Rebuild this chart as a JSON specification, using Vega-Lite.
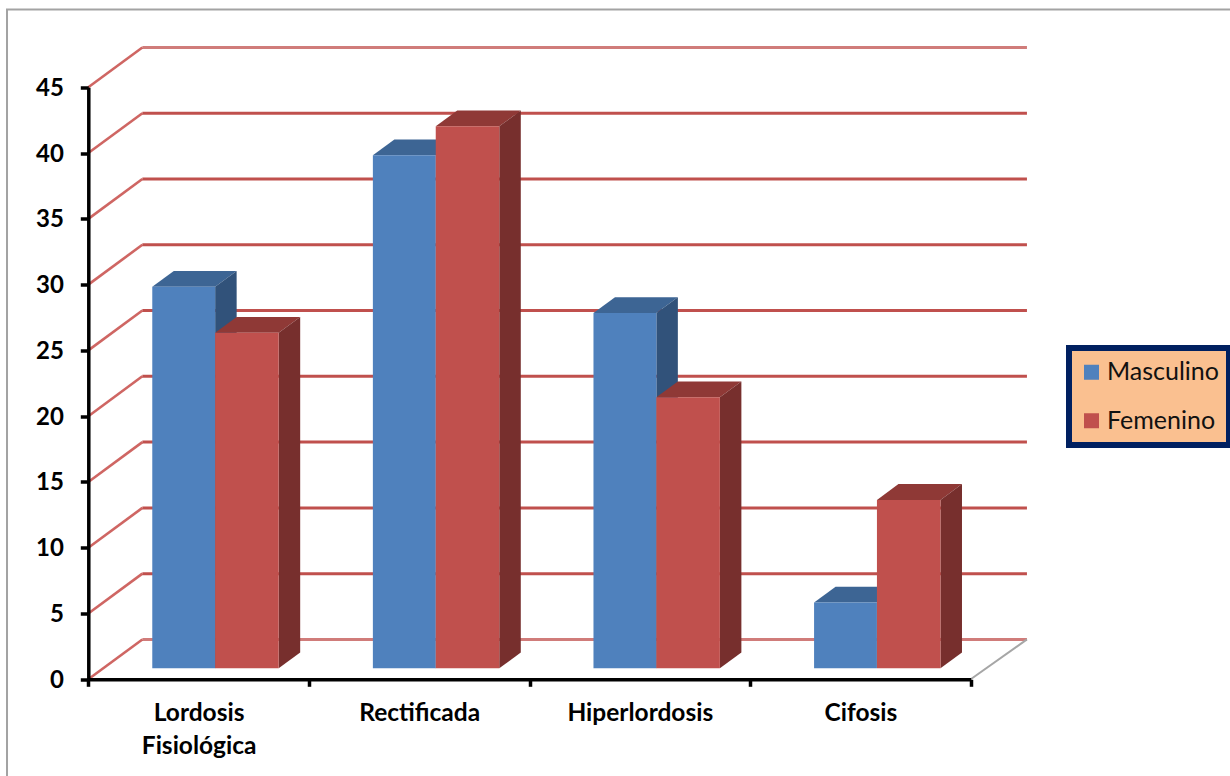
{
  "$schema": "https://vega.github.io/schema/vega-lite/v6.json",
  "width": 1223,
  "height": 766.5,
  "padding": {"left": 7, "top": 9.5, "right": 0, "bottom": 0},
  "autosize": {"type": "none"},
  "background": "#ffffff",
  "view": {"stroke": null},
  "config": {
    "font": "Lato",
    "legend": {"strokeWidth": 6}
  },
  "resolve": {"axis": {"x": "independent", "y": "independent"}},
  "datasets": {
    "barras": [
      {"categoria": "Lordosis Fisiológica", "serie": "Masculino", "valor": 29},
      {"categoria": "Lordosis Fisiológica", "serie": "Femenino", "valor": 25.5},
      {"categoria": "Rectificada", "serie": "Masculino", "valor": 39},
      {"categoria": "Rectificada", "serie": "Femenino", "valor": 41.2},
      {"categoria": "Hiperlordosis", "serie": "Masculino", "valor": 27},
      {"categoria": "Hiperlordosis", "serie": "Femenino", "valor": 20.6},
      {"categoria": "Cifosis", "serie": "Masculino", "valor": 5},
      {"categoria": "Cifosis", "serie": "Femenino", "valor": 12.8}
    ],
    "escala": [
      {"v": 0}, {"v": 5}, {"v": 10}, {"v": 15}, {"v": 20},
      {"v": 25}, {"v": 30}, {"v": 35}, {"v": 40}, {"v": 45}
    ]
  },
  "layer": [
    {
      "description": "Outer chart frame; it runs past the right and bottom of the canvas",
      "data": {"values": [{"marco": 1}]},
      "mark": {"type": "rect", "fill": null, "stroke": "#a3a3a3", "strokeWidth": 2, "clip": false},
      "encoding": {
        "x": {"datum": -0.3685, "type": "quantitative", "scale": {"domain": [0, 4], "range": [81.3, 963.7], "nice": false, "zero": false}, "axis": null},
        "x2": {"datum": 6},
        "y": {"datum": 50.92, "type": "quantitative", "scale": {"domain": [0, 45], "range": [669.8, 77.8], "nice": false, "zero": false}, "axis": null},
        "y2": {"datum": -10}
      }
    },
    {
      "description": "Left wall gridlines running back from the value axis",
      "data": {"name": "escala"},
      "transform": [{"calculate": "datum.v + 3.03", "as": "vb"}],
      "mark": {"type": "rule", "color": "#cf6663", "strokeWidth": 2.6},
      "encoding": {
        "x": {"datum": 0, "type": "quantitative", "scale": {"domain": [0, 4], "range": [81.3, 963.7], "nice": false, "zero": false}, "axis": null},
        "x2": {"datum": 0.245},
        "y": {"field": "v", "type": "quantitative", "scale": {"domain": [0, 45], "range": [669.8, 77.8], "nice": false, "zero": false}, "axis": null},
        "y2": {"field": "vb"}
      }
    },
    {
      "description": "Back wall gridlines, with both axes attached; the first and last are paler",
      "data": {"name": "escala"},
      "transform": [{"calculate": "datum.v + 3.03", "as": "vb"}],
      "mark": {"type": "rule", "color": "#c0504d", "strokeWidth": 3},
      "encoding": {
        "strokeOpacity": {"condition": {"test": "datum.v == 0 || datum.v == 45", "value": 0.75}, "value": 1},
        "x": {
          "datum": 0.245,
          "type": "quantitative",
          "scale": {"domain": [0, 4], "range": [81.3, 963.7], "nice": false, "zero": false},
          "axis": {
            "orient": "bottom",
            "offset": -96.7,
            "title": null,
            "grid": false,
            "zindex": 1,
            "values": [0, 0.5, 1, 1.5, 2, 2.5, 3, 3.5, 4],
            "domainColor": "#000000",
            "domainWidth": 3.5,
            "tickColor": "#000000",
            "tickWidth": 3.5,
            "tickSize": 7,
            "tickOpacity": {"condition": {"test": "datum.value % 1 != 0", "value": 0}, "value": 1},
            "labelExpr": "datum.value == 0.5 ? ['Lordosis', 'Fisiológica'] : datum.value == 1.5 ? 'Rectificada' : datum.value == 2.5 ? 'Hiperlordosis' : datum.value == 3.5 ? 'Cifosis' : ''",
            "labelFont": "Lato",
            "labelFontWeight": "bold",
            "labelFontSize": 24.5,
            "labelLineHeight": 33,
            "labelColor": "#000000",
            "labelPadding": 15,
            "labelOverlap": false,
            "labelFlush": false,
            "labelBound": false,
            "labelBaseline": "top",
            "labelAlign": "center",
            "labelAngle": 0
          }
        },
        "x2": {"datum": 4.255},
        "y": {
          "field": "vb",
          "type": "quantitative",
          "scale": {"domain": [0, 45], "range": [669.8, 77.8], "nice": false, "zero": false},
          "axis": {
            "orient": "left",
            "offset": -81.3,
            "title": null,
            "grid": false,
            "zindex": 1,
            "values": [0, 5, 10, 15, 20, 25, 30, 35, 40, 45],
            "domainColor": "#000000",
            "domainWidth": 3.5,
            "tickColor": "#000000",
            "tickWidth": 3.5,
            "tickSize": 8,
            "labelFont": "Lato",
            "labelFontWeight": "bold",
            "labelFontSize": 24,
            "labelColor": "#000000",
            "labelPadding": 17,
            "labelOffset": 1,
            "labelOverlap": false,
            "labelFlush": false,
            "labelBound": false
          }
        }
      }
    },
    {
      "description": "Grey right edge of the floor",
      "data": {"values": [{"a": 0, "b": 3.03}]},
      "mark": {"type": "rule", "color": "#a6a6a6", "strokeWidth": 2},
      "encoding": {
        "x": {"datum": 4, "type": "quantitative", "scale": {"domain": [0, 4], "range": [81.3, 963.7], "nice": false, "zero": false}, "axis": null},
        "x2": {"datum": 4.255},
        "y": {"field": "a", "type": "quantitative", "scale": {"domain": [0, 45], "range": [669.8, 77.8], "nice": false, "zero": false}, "axis": null},
        "y2": {"field": "b"}
      }
    },
    {
      "description": "Top and side faces of each bar, derived from its value",
      "data": {"name": "barras"},
      "transform": [
        {"calculate": "indexof(['Lordosis Fisiológica', 'Rectificada', 'Hiperlordosis', 'Cifosis'], datum.categoria)", "as": "i"},
        {"calculate": "datum.i + (datum.serie == 'Masculino' ? 0.29 : 0.575)", "as": "izq"},
        {"calculate": "datum.i + (datum.serie == 'Masculino' ? 0.575 : 0.863)", "as": "der"},
        {"calculate": "datum.valor + 0.836", "as": "sup"},
        {"calculate": "[datum.serie + ' techo', datum.serie + ' techo', datum.serie + ' techo', datum.serie + ' techo', datum.serie + ' lado', datum.serie + ' lado']", "as": "cara"},
        {"calculate": "[datum.izq, datum.izq + 0.0975, datum.der, datum.der + 0.0975, datum.der, datum.der + 0.0975]", "as": "px"},
        {"calculate": "[datum.sup, datum.sup + 1.2, datum.sup + 1.2, datum.sup + 1.2, datum.sup, datum.sup + 1.2]", "as": "py"},
        {"calculate": "[datum.sup, datum.sup, datum.sup, datum.sup + 1.2, 0.836, 2.036]", "as": "py2"},
        {"flatten": ["cara", "px", "py", "py2"]}
      ],
      "mark": {"type": "area", "interpolate": "linear", "line": false},
      "encoding": {
        "x": {"field": "px", "type": "quantitative", "scale": {"domain": [0, 4], "range": [81.3, 963.7], "nice": false, "zero": false}, "axis": null},
        "y": {"field": "py", "type": "quantitative", "stack": null, "scale": {"domain": [0, 45], "range": [669.8, 77.8], "nice": false, "zero": false}, "axis": null},
        "y2": {"field": "py2"},
        "detail": {"field": "categoria"},
        "fill": {
          "field": "cara",
          "type": "nominal",
          "legend": null,
          "scale": {
            "domain": ["Masculino techo", "Masculino lado", "Femenino techo", "Femenino lado"],
            "range": ["#3d6594", "#31527a", "#8f3936", "#772f2d"]
          }
        }
      }
    },
    {
      "description": "Front faces of the bars",
      "data": {"name": "barras"},
      "transform": [
        {"calculate": "indexof(['Lordosis Fisiológica', 'Rectificada', 'Hiperlordosis', 'Cifosis'], datum.categoria)", "as": "i"},
        {"calculate": "datum.i + (datum.serie == 'Masculino' ? 0.29 : 0.575)", "as": "izq"},
        {"calculate": "datum.i + (datum.serie == 'Masculino' ? 0.575 : 0.863)", "as": "der"},
        {"calculate": "datum.valor + 0.836", "as": "sup"},
        {"calculate": "0.836", "as": "base"}
      ],
      "mark": {"type": "rect"},
      "encoding": {
        "x": {"field": "izq", "type": "quantitative", "scale": {"domain": [0, 4], "range": [81.3, 963.7], "nice": false, "zero": false}, "axis": null},
        "x2": {"field": "der"},
        "y": {"field": "sup", "type": "quantitative", "scale": {"domain": [0, 45], "range": [669.8, 77.8], "nice": false, "zero": false}, "axis": null},
        "y2": {"field": "base"},
        "color": {
          "field": "serie",
          "type": "nominal",
          "scale": {"domain": ["Masculino", "Femenino"], "range": ["#4f81bd", "#c0504d"]},
          "legend": {
            "title": null,
            "orient": "none",
            "legendX": 1062,
            "legendY": 338.5,
            "fillColor": "#fac090",
            "strokeColor": "#002060",
            "padding": 10,
            "symbolType": "square",
            "symbolSize": 225,
            "symbolStrokeWidth": 0,
            "symbolOpacity": 1,
            "labelFont": "Lato",
            "labelFontSize": 25,
            "labelColor": "#111111",
            "labelOffset": 3,
            "clipHeight": 28.5,
            "rowPadding": 19.5
          }
        }
      }
    }
  ]
}
